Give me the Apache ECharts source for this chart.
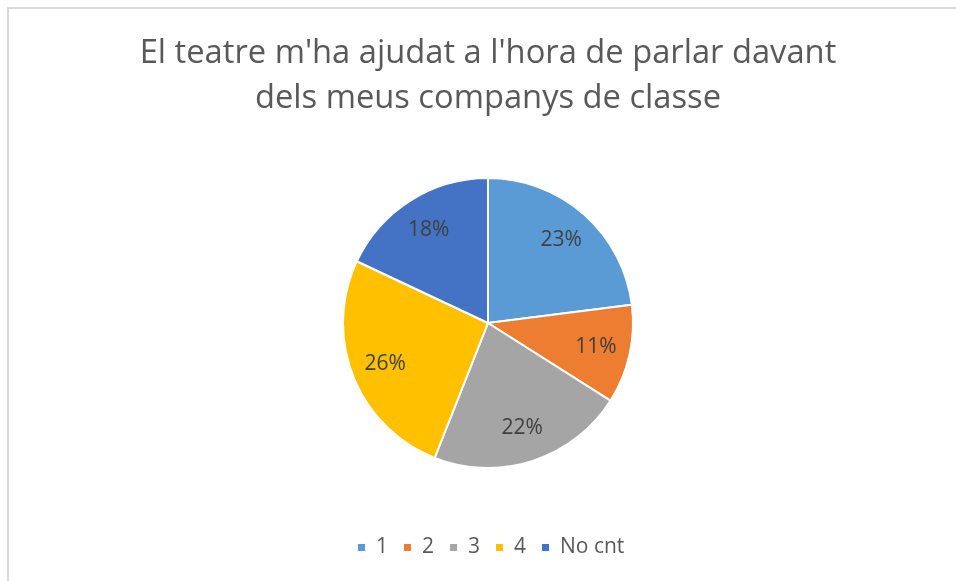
<!DOCTYPE html>
<html>
<head>
<meta charset="utf-8">
<script src="https://cdn.jsdelivr.net/npm/echarts@6/dist/echarts.min.js"></script>
<style>html,body{margin:0;padding:0;background:#fff}#c{width:956px;height:581px}</style>
</head>
<body>
<div id="c"></div>
<script>
var titleLines = ["El teatre m'ha ajudat a l'hora de parlar davant", "dels meus companys de classe"];
var categories = ["1", "2", "3", "4", "No cnt"];
var values = [23, 11, 22, 26, 18];
var colors = ["#5B9BD5", "#ED7D31", "#A5A5A5", "#FFC000", "#4472C4"];

var font = "'Open Sans', 'Noto Sans', sans-serif";
var chart = echarts.init(document.getElementById('c'), null, {renderer: 'canvas'});
var total = values.reduce(function(a, b){ return a + b; }, 0);
var pieData = categories.map(function(c, i){ return {name: c, value: values[i], itemStyle: {color: colors[i]}}; });
var labelData = categories.map(function(c, i){ return {name: c, value: values[i]}; });

chart.setOption({
  animation: false,
  graphic: [{
    type: 'rect', left: 7, top: 7, z: -10,
    shape: {width: 1000, height: 1000},
    style: {fill: '#fff', stroke: '#d9d9d9', lineWidth: 2}
  }],
  title: {
    text: titleLines.join('\n'),
    left: 483, textAlign: 'center', top: 26,
    textStyle: {fontFamily: font, fontSize: 32.7, fontWeight: 'normal', color: '#595959', lineHeight: 45}
  },
  legend: {
    data: categories,
    bottom: 23, left: 356,
    icon: 'rect', itemWidth: 9, itemHeight: 9, itemGap: 14,
    padding: 0,
    textStyle: {fontFamily: font, fontSize: 21, color: '#595959', padding: [0, 0, 0, 5]}
  },
  series: [{
    type: 'pie',
    center: [488, 323], radius: [0, 145],
    startAngle: 90, clockwise: true,
    itemStyle: {borderColor: '#fff', borderWidth: 2},
    label: {show: false}, labelLine: {show: false},
    emphasis: {disabled: true},
    data: pieData
  }, {
    type: 'pie',
    center: [488, 323], radius: [70, 145],
    startAngle: 90, clockwise: true, silent: true,
    itemStyle: {color: 'rgba(0,0,0,0)'},
    label: {
      show: true, position: 'inside',
      fontFamily: font, fontSize: 21, color: '#404040',
      formatter: function(p){ return Math.round(p.value / total * 100) + '%'; }
    },
    labelLine: {show: false},
    emphasis: {disabled: true},
    data: labelData
  }]
});
</script>
</body>
</html>
